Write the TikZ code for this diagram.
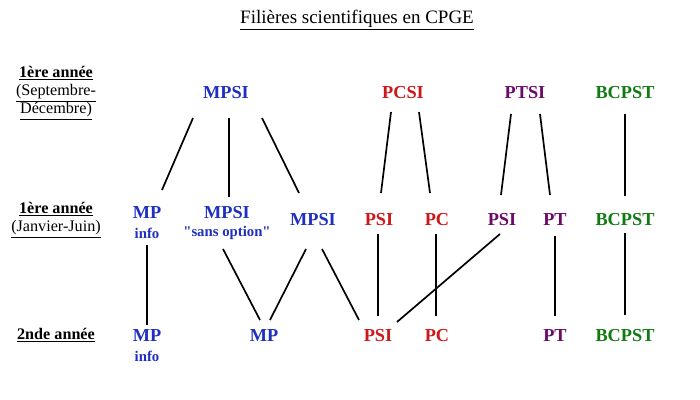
\documentclass[tikz,border=0pt]{standalone}
\usepackage{fontspec}
\setmainfont{Liberation Serif}
\newfontfamily\droitfont{Liberation Serif}[Ligatures=TeXOff]
\usepackage{tikz}
\usetikzlibrary{calc}
\definecolor{mpCol}{HTML}{1F2FBF}
\definecolor{pcCol}{HTML}{CC1818}
\definecolor{ptCol}{HTML}{6B0A6B}
\definecolor{bcCol}{HTML}{127A12}
\tikzset{
  filiere/.style={inner sep=0pt, font=\fontsize{13}{15}\selectfont\bfseries, text=#1},
  opt/.style={inner sep=0pt, font=\fontsize{10.5}{12}\selectfont\bfseries, text=#1},
  annee/.style={inner sep=0pt, align=center, font=\fontsize{11.5}{12.8}\selectfont},
  e/.style={line width=1.2pt},
}
\begin{document}
\begin{tikzpicture}[x=0.025cm, y=-0.025cm]
  \useasboundingbox (0,0) rectangle (700,400);
  % title
  \node[inner sep=0pt, font=\fontsize{13.5}{16}\selectfont] (titre) at (357,20)
    {\underline{Filières scientifiques en CPGE}};
  % left column (years)
  \node[annee] (an1) at (56,93) {\underline{\textbf{1ère année}}\\\underline{(Septembre-}\\\underline{Décembre)}};
  \node[annee] (an2) at (56,220) {\underline{\textbf{1ère année}}\\\underline{(Janvier-Juin)}};
  \node[annee] (an3) at (56,335) {\underline{\textbf{2nde année}}};
  % first period
  \node[filiere=mpCol] (mpsiA) at (226,93) {MPSI};
  \node[filiere=pcCol] (pcsi)  at (403,93) {PCSI};
  \node[filiere=ptCol] (ptsi)  at (525,93) {PTSI};
  \node[filiere=bcCol] (bcA)   at (625,93) {BCPST};
  % second period
  \node[filiere=mpCol] (mpA)   at (147,213) {MP};
  \node[opt=mpCol]     (infoA) at (147,233) {info};
  \node[filiere=mpCol] (mpsiB) at (227,213) {MPSI};
  \node[opt=mpCol]     (sansop) at (227,233) {{\droitfont"}sans option{\droitfont"}};
  \node[filiere=mpCol] (mpsiC) at (313,220) {MPSI};
  \node[filiere=pcCol] (psiA)  at (379,220) {PSI};
  \node[filiere=pcCol] (pcA)   at (437,220) {PC};
  \node[filiere=ptCol] (psiB)  at (502,220) {PSI};
  \node[filiere=ptCol] (ptA)   at (555,220) {PT};
  \node[filiere=bcCol] (bcB)   at (625,220) {BCPST};
  % second year
  \node[filiere=mpCol] (mpB)   at (147,336) {MP};
  \node[opt=mpCol]     (infoB) at (147,356) {info};
  \node[filiere=mpCol] (mpC)   at (264,336) {MP};
  \node[filiere=pcCol] (psiC)  at (378,336) {PSI};
  \node[filiere=pcCol] (pcB)   at (437,336) {PC};
  \node[filiere=ptCol] (ptB)   at (555,336) {PT};
  \node[filiere=bcCol] (bcC)   at (625,336) {BCPST};
  % first period -> second period
  \draw[e] ($(mpsiA)+(-33,25)$) -- ($(mpA)+(15,-23)$);
  \draw[e] ($(mpsiA)+(3,25)$)   -- ($(mpsiB)+(2,-16)$);
  \draw[e] ($(mpsiA)+(36,25)$)  -- ($(mpsiC)+(-14,-27)$);
  \draw[e] ($(pcsi)+(-12,19)$)  -- ($(psiA)+(2,-27)$);
  \draw[e] ($(pcsi)+(16,19)$)   -- ($(pcA)+(-7,-27)$);
  \draw[e] ($(ptsi)+(-14,21)$)  -- ($(psiB)+(-1,-25)$);
  \draw[e] ($(ptsi)+(15,21)$)   -- ($(ptA)+(-5,-25)$);
  \draw[e] ($(bcA)+(0,21)$)     -- ($(bcB)+(0,-24)$);
  % second period -> second year
  \draw[e] ($(infoA)+(0,12)$)   -- ($(mpB)+(0,-11)$);
  \draw[e] ($(sansop)+(-4,16)$) -- ($(mpC)+(-4,-16)$);
  \draw[e] ($(mpsiC)+(-7,29)$)  -- ($(mpC)+(6,-16)$);
  \draw[e] ($(mpsiC)+(9,29)$)   -- ($(psiC)+(-19,-16)$);
  \draw[e] ($(psiA)+(-1,14)$)   -- ($(psiC)+(0,-20)$);
  \draw[e] ($(pcA)+(-1,14)$)    -- ($(pcB)+(-1,-20)$);
  \draw[e] ($(psiB)+(-2,14)$)   -- ($(psiC)+(19,-14)$);
  \draw[e] ($(ptA)+(0,16)$)     -- ($(ptB)+(0,-20)$);
  \draw[e] ($(bcB)+(0,13)$)     -- ($(bcC)+(0,-21)$);
\end{tikzpicture}
\end{document}
